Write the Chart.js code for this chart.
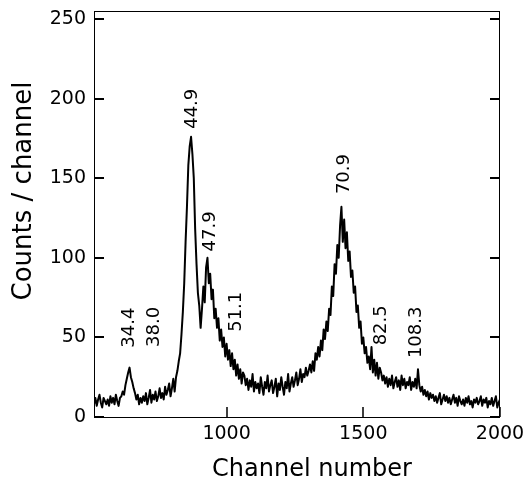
<!DOCTYPE html>
<html>
<head>
<meta charset="utf-8">
<script src="https://cdn.jsdelivr.net/npm/chart.js@4/dist/chart.umd.min.js"></script>
<style>
  html, body { margin: 0; padding: 0; background: #fff; }
</style>
</head>
<body>
<canvas id="spectrum" width="524" height="483"></canvas>
<script>
// spectrum: one value every 5 channels, starting at channel 515
const firstChannel = 515;
const channelStep = 5;
const counts = [
  8, 12, 7, 11, 14, 9, 6, 12, 10, 8,
  11, 7, 13, 9, 12, 8, 14, 10, 7, 12,
  13, 16, 14, 20, 24, 28, 31, 25, 22, 18,
  15, 11, 14, 8, 12, 9, 13, 10, 15, 8,
  12, 17, 9, 14, 11, 16, 10, 13, 18, 12,
  15, 11, 19, 14, 17, 21, 13, 18, 24, 16,
  25, 29, 35, 40, 52, 66, 84, 110, 132, 158,
  170, 176, 165, 150, 118, 96, 78, 70, 56, 68,
  82, 72, 94, 100, 84, 90, 74, 80, 62, 68,
  56, 62, 48, 55, 44, 50, 38, 46, 36, 42,
  32, 40, 30, 36, 26, 33, 24, 30, 21, 28,
  26, 20, 24, 17, 23, 19, 27, 16, 22, 18,
  21, 15, 25, 19, 14, 22, 18, 26, 16, 20,
  23, 15, 19, 24, 13, 21, 17, 25, 19, 14,
  22, 18, 27, 16, 21, 25, 19, 23, 28, 20,
  24, 30, 22, 27, 25, 31, 26, 29, 33, 28,
  35, 29, 40, 36, 44, 38, 48, 42, 55, 49,
  60, 54, 68, 64, 82, 76, 96, 90, 108, 100,
  120, 132, 110, 124, 106, 116, 98, 104, 88, 92,
  78, 82, 66, 70, 56, 60, 46, 50, 40, 44,
  34, 38, 30, 44, 28, 36, 26, 34, 24, 31,
  28, 23, 26, 21, 25, 19, 24, 20, 26, 18,
  22, 25, 19, 23, 17, 26, 20, 24, 18, 22,
  20, 25, 17, 22, 19, 24, 18, 30, 20, 16,
  19, 14, 17, 13, 16, 11, 15, 12, 14, 10,
  13, 9, 12, 15, 8, 11, 14, 10, 13, 9,
  12, 8, 11, 14, 9, 12, 7, 13, 10, 8,
  11, 7, 12, 9, 13, 8, 10, 6, 11, 9,
  12, 8, 10, 13, 7, 11, 9, 12, 6, 10,
  8, 12, 7, 10, 13, 6, 9, 11
];

const xTicks = [1000, 1500, 2000];
const yTicks = [0, 50, 100, 150, 200, 250];

// peak energies written above the spectrum (channel, counts where the text starts)
const peakLabels = ['34.4', '38.0', '44.9', '47.9', '51.1', '70.9', '82.5', '108.3'];
const peakChannels = [646, 734, 873, 942, 1037, 1432, 1567, 1695];
const peakHeights = [43.5, 44, 181, 104, 53.5, 140, 45, 37];

const points = counts.map((v, i) => ({ x: firstChannel + i * channelStep, y: v }));

const FONT = '"DejaVu Sans", sans-serif';

const framePlugin = {
  id: 'frame',
  afterDraw(chart) {
    const { ctx, chartArea: a, scales: { x, y } } = chart;
    ctx.save();
    ctx.strokeStyle = '#000';
    ctx.fillStyle = '#000';

    ctx.lineWidth = 1;
    ctx.strokeRect(a.left + 0.5, a.top + 0.5, a.right - a.left - 1, a.bottom - a.top);

    // inward ticks
    ctx.lineWidth = 2;
    ctx.beginPath();
    yTicks.forEach(v => {
      const py = Math.round(y.getPixelForValue(v));
      ctx.moveTo(a.left, py); ctx.lineTo(a.left + 10, py);
      ctx.moveTo(a.right, py); ctx.lineTo(a.right - 10, py);
    });
    ctx.stroke();
    ctx.lineWidth = 1.5;
    ctx.beginPath();
    xTicks.forEach(v => {
      const px = Math.round(x.getPixelForValue(v));
      ctx.moveTo(px, a.bottom); ctx.lineTo(px, a.bottom - 10);
    });
    ctx.stroke();

    // tick labels
    ctx.font = '19px ' + FONT;
    ctx.textAlign = 'right';
    ctx.textBaseline = 'middle';
    yTicks.forEach(v => ctx.fillText(String(v), a.left - 8, y.getPixelForValue(v)));
    ctx.textAlign = 'center';
    xTicks.forEach(v => ctx.fillText(String(v), x.getPixelForValue(v), a.bottom + 17));

    // axis titles
    ctx.font = '24px ' + FONT;
    ctx.textBaseline = 'alphabetic';
    ctx.fillText('Channel number', 312, 476);
    ctx.save();
    ctx.translate(31, 191);
    ctx.rotate(-Math.PI / 2);
    ctx.font = '26px ' + FONT;
    ctx.fillText('Counts / channel', 0, 0);
    ctx.restore();

    // peak annotations, rotated
    ctx.font = '18px ' + FONT;
    ctx.textAlign = 'left';
    ctx.textBaseline = 'middle';
    peakLabels.forEach((t, i) => {
      ctx.save();
      ctx.translate(x.getPixelForValue(peakChannels[i]), y.getPixelForValue(peakHeights[i]));
      ctx.rotate(-Math.PI / 2);
      ctx.fillText(t, 0, 0);
      ctx.restore();
    });
    ctx.restore();
  }
};

new Chart(document.getElementById('spectrum'), {
  type: 'line',
  data: {
    datasets: [{
      data: points,
      borderColor: '#000',
      borderWidth: 2,
      borderJoinStyle: 'round',
      pointRadius: 0,
      tension: 0,
      fill: false
    }]
  },
  options: {
    responsive: false,
    animation: false,
    events: [],
    layout: { padding: { top: 11, right: 24, bottom: 0, left: 0 } },
    plugins: { legend: { display: false }, tooltip: { enabled: false } },
    scales: {
      x: {
        type: 'linear',
        min: 515,
        max: 2000,
        grid: { display: false, drawTicks: false },
        border: { display: false },
        ticks: { display: false },
        afterFit(scale) { scale.height = 66; }
      },
      y: {
        min: 0,
        max: 255,
        grid: { display: false, drawTicks: false },
        border: { display: false },
        ticks: { display: false },
        afterFit(scale) { scale.width = 94; }
      }
    }
  },
  plugins: [framePlugin]
});
</script>
</body>
</html>
